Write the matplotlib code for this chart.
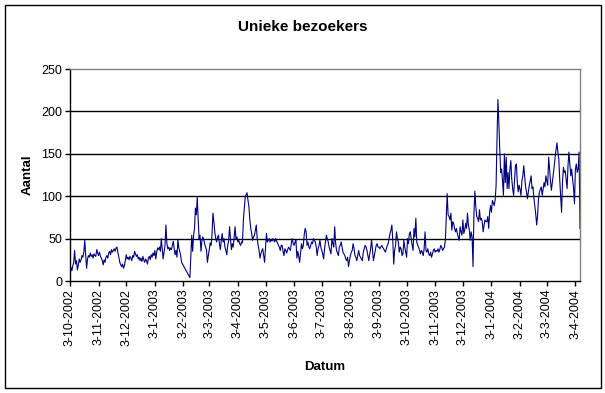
import matplotlib
matplotlib.use("Agg")
import matplotlib.pyplot as plt
import matplotlib.dates as mdates
from matplotlib.patches import Rectangle
import pandas as pd

plt.rcParams['font.family'] = ['Liberation Sans', 'DejaVu Sans']

start_date = "2002-10-03"

bezoekers = [
    # okt 2002
    8, 16, 12, 18, 22, 36, 20, 24, 13, 19, 26, 22, 25, 30, 28, 34, 48, 30, 15, 26,
    30, 28, 33, 29, 31, 27, 32, 30, 29,
    # nov 2002
    37, 33, 30, 34, 29, 27, 24, 19, 25, 22, 28, 30, 27, 33, 35, 31, 37, 34, 36, 38,
    35, 39, 40, 33, 28, 22, 19, 17, 20, 15,
    # dec 2002
    18, 24, 31, 26, 28, 25, 29, 27, 24, 30, 28, 35, 32, 29, 31, 26, 28, 24, 27, 23,
    29, 25, 22, 26, 24, 20, 27, 29, 25, 31, 28,
    # jan 2003
    33, 30, 36, 26, 34, 39, 37, 40, 35, 50, 38, 26, 34, 42, 66, 45, 38, 40, 36, 39,
    37, 42, 47, 38, 31, 36, 28, 49, 39, 35, 30,
    # feb 2003
    22, 20, 18, 16, 14, 12, 10, 8, 6, 4, 28, 54, 35, 54, 62, 86, 78, 99, 72, 50,
    54, 35, 47, 52, 49, 44, 40, 37,
    # mrt 2003
    22, 30, 37, 45, 42, 55, 80, 70, 58, 50, 46, 52, 54, 44, 37, 48, 56, 46, 50, 40,
    36, 31, 42, 47, 64, 50, 37, 44, 40, 52, 64,
    # apr 2003
    49, 52, 46, 48, 44, 42, 46, 45, 72, 85, 99, 102, 104, 95, 88, 72, 62, 56, 48, 52,
    54, 60, 66, 50, 42, 36, 27, 32, 36, 38,
    # mei 2003
    30, 22, 40, 56, 46, 48, 50, 46, 49, 47, 50, 48, 46, 50, 47, 45, 42, 40, 36, 42,
    42, 35, 30, 38, 36, 33, 37, 40, 38, 36, 45,
    # jun 2003
    50, 44, 42, 46, 48, 27, 35, 29, 22, 33, 44, 38, 42, 55, 62, 58, 42, 46, 40, 38,
    42, 46, 44, 50, 48, 46, 40, 30, 38, 42,
    # jul 2003
    48, 40, 36, 32, 26, 38, 46, 54, 50, 46, 40, 36, 32, 50, 44, 40, 64, 45, 36, 33,
    30, 40, 42, 46, 40, 34, 32, 30, 26, 24, 28,
    # aug 2003
    17, 24, 30, 34, 36, 44, 38, 30, 28, 24, 30, 36, 30, 28, 26, 24, 34, 38, 42, 40,
    36, 30, 24, 32, 38, 49, 36, 24, 30, 36, 42,
    # sep 2003
    44, 40, 40, 38, 40, 42, 40, 38, 36, 34, 38, 42, 44, 50, 56, 60, 66, 48, 20, 36,
    42, 58, 50, 46, 34, 40, 38, 30, 32, 48,
    # okt 2003
    40, 34, 28, 50, 44, 56, 58, 50, 42, 36, 62, 52, 74, 46, 42, 40, 36, 32, 36, 34,
    30, 38, 58, 36, 34, 38, 32, 30, 34, 28, 32,
    # nov 2003
    36, 38, 34, 36, 35, 38, 34, 37, 42, 40, 36, 38, 40, 48, 76, 103, 78, 76, 72, 80,
    60, 70, 68, 62, 58, 62, 56, 52, 48, 64,
    # dec 2003
    58, 54, 72, 56, 60, 68, 62, 80, 66, 60, 48, 58, 52, 17, 80, 106, 88, 76, 74, 70,
    84, 72, 74, 70, 58, 66, 72, 70, 70, 76, 62,
    # jan 2004
    81, 89, 81, 95, 92, 89, 96, 112, 167, 214, 187, 155, 128, 132, 118, 101, 150, 116, 146, 109,
    128, 109, 132, 142, 120, 109, 101, 118, 136, 138, 116,
    # feb 2004
    105, 113, 108, 101, 118, 124, 136, 124, 111, 105, 97, 105, 113, 118, 124, 109, 111, 98, 89, 79,
    66, 77, 97, 105, 108, 111, 101, 108, 116,
    # mrt 2004
    111, 124, 118, 113, 146, 132, 118, 107, 116, 126, 135, 146, 155, 163, 152, 144, 120, 101, 81, 116,
    134, 128, 130, 120, 109, 136, 152, 138, 124, 132, 120,
    # apr 2004
    110, 91, 132, 138, 128, 132, 152, 62,
]

tick_labels = ["3-10-2002", "3-11-2002", "3-12-2002", "3-1-2003", "3-2-2003", "3-3-2003",
               "3-4-2003", "3-5-2003", "3-6-2003", "3-7-2003", "3-8-2003", "3-9-2003",
               "3-10-2003", "3-11-2003", "3-12-2003", "3-1-2004", "3-2-2004", "3-3-2004",
               "3-4-2004"]

dates = pd.date_range(start_date, periods=len(bezoekers), freq="D")
tick_dates = pd.to_datetime(tick_labels, format="%d-%m-%Y")

fig = plt.figure(figsize=(6.05, 3.93), dpi=100)
ax = fig.add_axes([70/605, 1-281/393, 510/605, 212/393])

ax.plot(dates, bezoekers, color="#000080", linewidth=0.8)

ax.set_ylim(0, 250)
ax.set_yticks([0, 50, 100, 150, 200, 250])
ax.set_xlim(dates[0], dates[0] + pd.Timedelta(days=553))
ax.set_xticks(tick_dates)
ax.set_xticklabels(tick_labels, rotation=90)

for y in [50, 100, 150, 200]:
    ax.axhline(y, color="black", linewidth=1, zorder=0)

ax.spines["left"].set_color("black")
ax.spines["bottom"].set_color("black")
ax.spines["top"].set_color("#808080")
ax.spines["right"].set_color("#808080")
for s in ax.spines.values():
    s.set_linewidth(1)
ax.tick_params(axis="both", direction="out", length=3.5, width=1, labelsize=9, pad=2)

fig.text(0.5, 1-27/393, "Unieke bezoekers", ha="center", va="center",
         fontsize=11, fontweight="bold")
fig.text(325/605, 1-367/393, "Datum", ha="center", va="center",
         fontsize=9.5, fontweight="bold")
fig.text(28/605, 1-175/393, "Aantal", ha="center", va="center", rotation=90,
         fontsize=9.5, fontweight="bold")

fig.patches.append(Rectangle((5/605, 1-388/393), 596/605, 383/393, transform=fig.transFigure,
                             fill=False, edgecolor="black", linewidth=1))

fig.savefig("out.png", dpi=100)
